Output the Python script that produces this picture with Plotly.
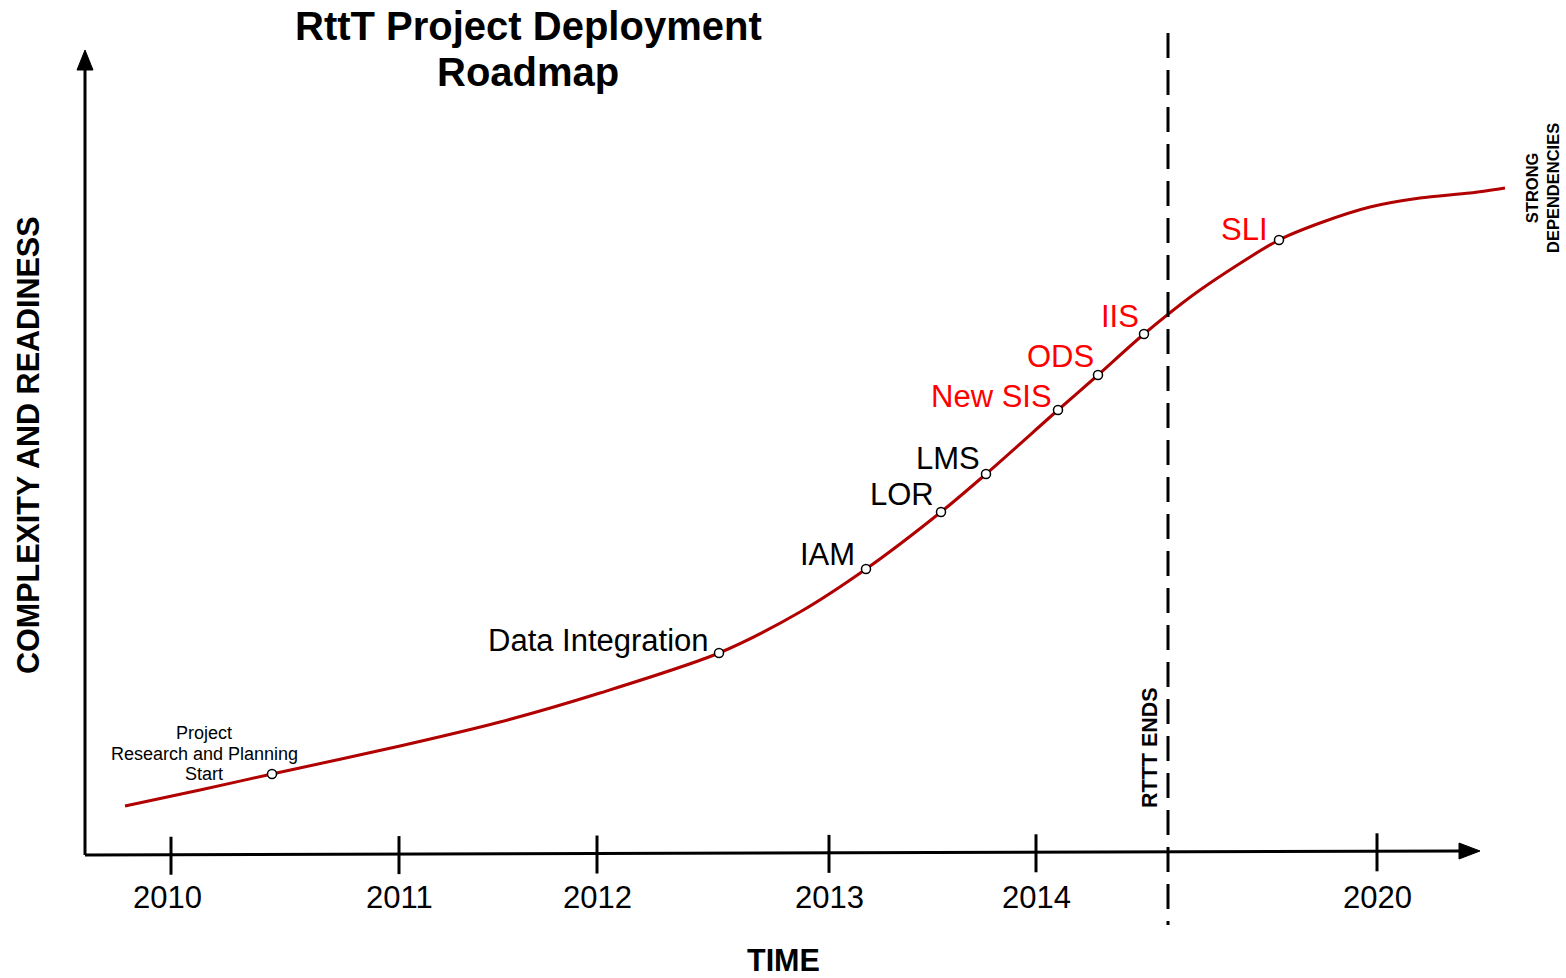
import plotly.graph_objects as go

# ---- data (diagram units: horizontal position along the time axis, vertical level) ----
curve_x = [125, 200, 272, 400, 500, 600, 719, 800, 866, 941, 986, 1058, 1098, 1144, 1200, 1279, 1320, 1370, 1420, 1470, 1505]
curve_y = [806, 790, 774, 746, 722, 693, 653, 612, 569, 512, 474, 410, 375, 334, 290, 240, 223, 207, 198, 193, 188]

milestone_names = ["Project<br>Research and Planning<br>Start", "Data Integration", "IAM", "LOR", "LMS",
                   "New SIS", "ODS", "IIS", "SLI"]
milestone_x = [272, 719, 866, 941, 986, 1058, 1098, 1144, 1279]
milestone_y = [774, 653, 569, 512, 474, 410, 375, 334, 240]
milestone_colors = ["black", "black", "black", "black", "black", "red", "red", "red", "red"]

tick_x = [171, 399, 597, 829, 1036, 1377]
tick_labels = ["2010", "2011", "2012", "2013", "2014", "2020"]

rttt_end_x = 1168

FONT = "Arial, Liberation Sans, sans-serif"

fig = go.Figure()

fig.add_trace(go.Scatter(x=curve_x, y=curve_y, mode="lines",
                         line=dict(color="#b00000", width=3, shape="spline", smoothing=0.8),
                         hoverinfo="skip", showlegend=False))
fig.add_trace(go.Scatter(x=milestone_x, y=milestone_y, mode="markers",
                         marker=dict(size=9, color="white", line=dict(color="black", width=1.5)),
                         hoverinfo="skip", showlegend=False))

shapes = []
shapes.append(dict(type="line", x0=85, y0=855, x1=1462, y1=851, line=dict(color="black", width=3)))
shapes.append(dict(type="line", x0=85, y0=855, x1=85, y1=68, line=dict(color="black", width=3)))
shapes.append(dict(type="path", path="M 1480 851 L 1459 843 L 1459 859 Z", fillcolor="black", line=dict(color="black", width=1)))
shapes.append(dict(type="path", path="M 85 50 L 77 70 L 93 70 Z", fillcolor="black", line=dict(color="black", width=1)))
for tx in tick_x:
    ty = 855 - (tx - 85) * 4 / 1395
    shapes.append(dict(type="line", x0=tx, y0=ty - 18, x1=tx, y1=ty + 20, line=dict(color="black", width=3)))
shapes.append(dict(type="line", x0=rttt_end_x, y0=33, x1=rttt_end_x, y1=925,
                   line=dict(color="black", width=3, dash="25px,12px")))

annotations = []
annotations.append(dict(x=528, y=26, text="<b>RttT Project Deployment</b>", showarrow=False,
                        font=dict(family=FONT, size=40, color="black"), xanchor="center", yanchor="middle"))
annotations.append(dict(x=528, y=72, text="<b>Roadmap</b>", showarrow=False,
                        font=dict(family=FONT, size=40, color="black"), xanchor="center", yanchor="middle"))
annotations.append(dict(x=28, y=445, text="<b>COMPLEXITY AND READINESS</b>", showarrow=False, textangle=-90,
                        font=dict(family=FONT, size=30.5, color="black"), xanchor="center", yanchor="middle"))
annotations.append(dict(x=783, y=960, text="<b>TIME</b>", showarrow=False,
                        font=dict(family=FONT, size=30.5, color="black"), xanchor="center", yanchor="middle"))
for tx, tl in zip(tick_x, tick_labels):
    annotations.append(dict(x=tx - (4 if tl == "2010" else 0), y=897, text=tl, showarrow=False,
                            font=dict(family=FONT, size=31, color="black"), xanchor="center", yanchor="middle"))
label_pos = {
    "Data Integration": (598, 640),
    "IAM": (827, 554),
    "LOR": (902, 494),
    "LMS": (948, 458),
    "New SIS": (991, 396),
    "ODS": (1060, 356),
    "IIS": (1120, 316),
    "SLI": (1244, 229),
}
for name, col in zip(milestone_names, milestone_colors):
    if name.startswith("Project"):
        for i, line in enumerate(name.split("<br>")):
            annotations.append(dict(x=204, y=733 + 20.5 * i, text=line, showarrow=False,
                                    font=dict(family=FONT, size=18, color="black"),
                                    xanchor="center", yanchor="middle", align="center"))
    else:
        lx, ly = label_pos[name]
        annotations.append(dict(x=lx, y=ly, text=name, showarrow=False,
                                font=dict(family=FONT, size=31, color=col),
                                xanchor="center", yanchor="middle"))
annotations.append(dict(x=1150, y=748, text="<b>RTTT ENDS</b>", showarrow=False, textangle=-90,
                        font=dict(family=FONT, size=21.5, color="black"), xanchor="center", yanchor="middle"))
annotations.append(dict(x=1542, y=188, text="<b>STRONG<br>DEPENDENCIES</b>", showarrow=False, textangle=-90,
                        font=dict(family=FONT, size=16.5, color="black"), xanchor="center", yanchor="middle",
                        align="center"))

fig.update_layout(
    width=1566, height=978,
    margin=dict(l=0, r=0, t=0, b=0),
    paper_bgcolor="white", plot_bgcolor="white",
    xaxis=dict(range=[0, 1566], visible=False, fixedrange=True),
    yaxis=dict(range=[978, 0], visible=False, fixedrange=True),
    shapes=shapes, annotations=annotations, showlegend=False,
)

fig.write_html("out.html", config={"displayModeBar": False},
               post_script="document.body.style.margin='0';document.body.style.overflow='hidden';")
